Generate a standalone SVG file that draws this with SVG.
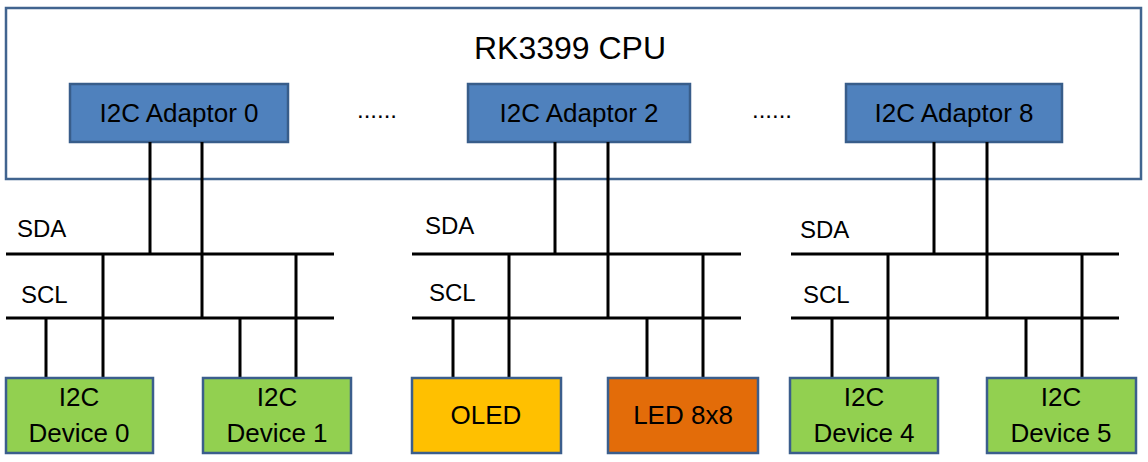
<svg xmlns="http://www.w3.org/2000/svg" width="1148" height="462" viewBox="0 0 1148 462">
<style>
text{font-family:"Liberation Sans",Arial,sans-serif;fill:#000}
.cpu{fill:#fff;stroke:#41648F;stroke-width:2.5}
.ad{fill:#4F81BD;stroke:#385D8A;stroke-width:2.5}
.dev{stroke:#3B5E8C;stroke-width:2.5}
.g{fill:#92D050}.y{fill:#FFC000}.o{fill:#E36C09}
.w{stroke:#000;stroke-width:3;fill:none}
.t26{font-size:26px;text-anchor:middle}
.bus{font-size:24px}
</style>
<rect width="1148" height="462" fill="#fff"/>
<g id="cpu">
<rect class="cpu" x="6" y="8" width="1135" height="171"/>
<text x="570" y="59" font-size="32" text-anchor="middle">RK3399 CPU</text>
<text x="357" y="118" font-size="24">......</text>
<text x="752" y="118" font-size="24">......</text>
</g>
<g id="adaptor0"><rect class="ad" x="70" y="84" width="218" height="58"/><text class="t26" x="179" y="122">I2C Adaptor 0</text></g>
<g id="adaptor2"><rect class="ad" x="468" y="84" width="222" height="58"/><text class="t26" x="579" y="122">I2C Adaptor 2</text></g>
<g id="adaptor8"><rect class="ad" x="846" y="84" width="216" height="58"/><text class="t26" x="954" y="122">I2C Adaptor 8</text></g>
<g id="connectors" class="w">
<path d="M6 254H334M6 318H334M412 254H741M412 318H741M791 254H1119M791 318H1119"/>
<path d="M150 142V254M202 142V318M103 254V378M296 254V378M46 318V378M240 318V378"/>
<path d="M555 142V254M608 142V318M509 254V378M703 254V378M453 318V378M647 318V378"/>
<path d="M934 142V254M987 142V318M888 254V378M1082 254V378M832 318V378M1026 318V378"/>
</g>
<g id="buslabels" class="bus">
<text x="17" y="237">SDA</text><text x="21" y="303">SCL</text>
<text x="425" y="234">SDA</text><text x="429" y="301">SCL</text>
<text x="800" y="238">SDA</text><text x="803" y="303">SCL</text>
</g>
<g id="device0"><rect class="dev g" x="6" y="378" width="147" height="75"/><text class="t26" x="79" y="406">I2C</text><text class="t26" x="79" y="442">Device 0</text></g>
<g id="device1"><rect class="dev g" x="203" y="378" width="148" height="75"/><text class="t26" x="277" y="406">I2C</text><text class="t26" x="277" y="442">Device 1</text></g>
<g id="oled"><rect class="dev y" x="412" y="378" width="149" height="75"/><text class="t26" x="486" y="424">OLED</text></g>
<g id="led8x8"><rect class="dev o" x="608" y="378" width="150" height="75"/><text class="t26" x="683" y="424">LED 8x8</text></g>
<g id="device4"><rect class="dev g" x="790" y="378" width="148" height="75"/><text class="t26" x="864" y="406">I2C</text><text class="t26" x="864" y="442">Device 4</text></g>
<g id="device5"><rect class="dev g" x="987" y="378" width="149" height="75"/><text class="t26" x="1061" y="406">I2C</text><text class="t26" x="1061" y="442">Device 5</text></g>
</svg>
